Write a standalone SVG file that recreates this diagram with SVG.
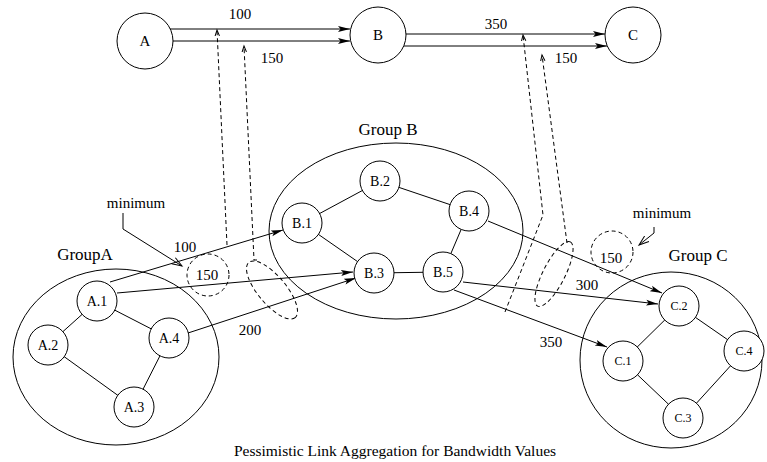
<svg xmlns="http://www.w3.org/2000/svg" width="767" height="462" viewBox="0 0 767 462">
<style>
text{font-family:"Liberation Serif","Times New Roman",serif;fill:#000;text-anchor:middle}
.n{fill:#fff;stroke:#000;stroke-width:1}
.g{fill:none;stroke:#000;stroke-width:1}
.e{stroke:#000;stroke-width:1;fill:none}
.d{stroke:#000;stroke-width:1;fill:none;stroke-dasharray:4,3}
.lbl{font-size:14px}
.clbl{font-size:12px}
.top{font-size:15px}
.num{font-size:15px}
.cap{font-size:15.5px}
.grp{font-size:17px}
</style>
<defs>
<marker id="fa" markerWidth="13" markerHeight="8" refX="12" refY="4" orient="auto" markerUnits="userSpaceOnUse">
<path d="M0,1 L12,4 L0,7 L2.5,4 z" fill="#000"/>
</marker>
<marker id="oa" markerWidth="8" markerHeight="8" refX="6" refY="4" orient="auto" markerUnits="userSpaceOnUse">
<path d="M0,1.8 L6,4 L0,6.2" fill="none" stroke="#000" stroke-width="1"/>
</marker>
<marker id="ma" markerWidth="12" markerHeight="10" refX="10" refY="5" orient="auto" markerUnits="userSpaceOnUse">
<path d="M0,1.5 L10,5 L0,8.5" fill="none" stroke="#000" stroke-width="1"/>
</marker>
</defs>

<!-- group outlines -->
<g id="groupA">
<ellipse class="g" cx="116" cy="357" rx="103" ry="88"/>
<text class="grp" x="85" y="260">GroupA</text>
</g>
<g id="groupB">
<ellipse class="g" cx="396" cy="231" rx="127" ry="88"/>
<text class="grp" x="388" y="135">Group B</text>
</g>
<g id="groupC">
<ellipse class="g" cx="671" cy="360" rx="91" ry="88"/>
<text class="grp" x="698" y="261">Group C</text>
</g>

<!-- connectors -->
<g id="connectors">
<!-- top level -->
<line class="e" x1="170" y1="29" x2="350" y2="29" marker-end="url(#fa)"/>
<line class="e" x1="173" y1="41" x2="350" y2="41" marker-end="url(#fa)"/>
<line class="e" x1="406" y1="34" x2="605" y2="34" marker-end="url(#fa)"/>
<line class="e" x1="404" y1="46" x2="607" y2="46" marker-end="url(#fa)"/>
<!-- intra group A -->
<line class="e" x1="97" y1="301" x2="48" y2="345"/>
<line class="e" x1="97" y1="301" x2="169" y2="338"/>
<line class="e" x1="48" y1="345" x2="134" y2="407"/>
<line class="e" x1="169" y1="338" x2="134" y2="407"/>
<!-- intra group B -->
<line class="e" x1="302" y1="223" x2="380" y2="181"/>
<line class="e" x1="380" y1="181" x2="469" y2="211"/>
<line class="e" x1="302" y1="223" x2="374" y2="273"/>
<line class="e" x1="374" y1="273" x2="443" y2="272"/>
<line class="e" x1="443" y1="272" x2="469" y2="211"/>
<!-- intra group C -->
<line class="e" x1="623" y1="361" x2="679" y2="306"/>
<line class="e" x1="679" y1="306" x2="744" y2="351"/>
<line class="e" x1="623" y1="361" x2="683" y2="418"/>
<line class="e" x1="683" y1="418" x2="744" y2="351"/>
<!-- inter group -->
<line class="e" x1="110" y1="282" x2="283" y2="230" marker-end="url(#fa)"/>
<line class="e" x1="117" y1="293" x2="353" y2="272" marker-end="url(#fa)"/>
<line class="e" x1="188" y1="333" x2="356" y2="278" marker-end="url(#fa)"/>
<line class="e" x1="488" y1="221" x2="662" y2="293" marker-end="url(#fa)"/>
<line class="e" x1="463" y1="282" x2="658" y2="304" marker-end="url(#fa)"/>
<line class="e" x1="454" y1="290" x2="607" y2="347" marker-end="url(#fa)"/>
<!-- dashed aggregation -->
<polyline class="d" points="227,245 217,30" marker-end="url(#oa)"/>
<polyline class="d" points="257,260 254,260 244,46" marker-end="url(#oa)"/>
<ellipse class="d" cx="272" cy="290" rx="36" ry="14" transform="rotate(50 272 290)"/>
<ellipse class="d" cx="208" cy="275" rx="21" ry="21"/>
<polyline class="d" points="505,312 543,215 523,35" marker-end="url(#oa)"/>
<polyline class="d" points="567,243 542,55" marker-end="url(#oa)"/>
<ellipse class="d" cx="554" cy="274" rx="36" ry="11" transform="rotate(-63 554 274)"/>
<ellipse class="d" cx="612" cy="252" rx="21" ry="21"/>
<!-- minimum pointers -->
<polyline class="e" points="123,213 123,229 182,266" marker-end="url(#ma)"/>
<polyline class="e" points="654,227 654,233 639,245" marker-end="url(#ma)"/>
</g>

<!-- labels -->
<g id="labels">
<text class="num" x="240" y="19">100</text>
<text class="num" x="272" y="63">150</text>
<text class="num" x="496" y="29">350</text>
<text class="num" x="566" y="63">150</text>
<text class="num" x="136" y="208">minimum</text>
<text class="num" x="662" y="218">minimum</text>
<text class="num" x="207" y="280">150</text>
<text class="num" x="611" y="263">150</text>
<text class="num" x="185" y="252">100</text>
<text class="num" x="250" y="335">200</text>
<text class="num" x="587" y="290">300</text>
<text class="num" x="551" y="347">350</text>
<text class="cap" x="395" y="456">Pessimistic Link Aggregation for Bandwidth Values</text>
</g>

<!-- top nodes -->
<g id="A"><circle class="n" cx="145" cy="41" r="28"/><text class="top" x="145" y="46">A</text></g>
<g id="B"><circle class="n" cx="378" cy="35" r="28"/><text class="top" x="378" y="40">B</text></g>
<g id="C"><circle class="n" cx="633" cy="35" r="28"/><text class="top" x="633" y="40">C</text></g>

<!-- group A nodes -->
<g id="A1"><circle class="n" cx="97" cy="301" r="20"/><text class="lbl" x="97" y="306">A.1</text></g>
<g id="A2"><circle class="n" cx="48" cy="345" r="20"/><text class="lbl" x="48" y="350">A.2</text></g>
<g id="A3"><circle class="n" cx="134" cy="407" r="20"/><text class="lbl" x="134" y="412">A.3</text></g>
<g id="A4"><circle class="n" cx="169" cy="338" r="20"/><text class="lbl" x="169" y="343">A.4</text></g>

<!-- group B nodes -->
<g id="B1"><circle class="n" cx="302" cy="223" r="20"/><text class="lbl" x="302" y="228">B.1</text></g>
<g id="B2"><circle class="n" cx="380" cy="181" r="20"/><text class="lbl" x="380" y="186">B.2</text></g>
<g id="B3"><circle class="n" cx="374" cy="273" r="20"/><text class="lbl" x="374" y="278">B.3</text></g>
<g id="B4"><circle class="n" cx="469" cy="211" r="20"/><text class="lbl" x="469" y="216">B.4</text></g>
<g id="B5"><circle class="n" cx="443" cy="272" r="20"/><text class="lbl" x="443" y="277">B.5</text></g>

<!-- group C nodes -->
<g id="C1"><circle class="n" cx="623" cy="361" r="20"/><text class="clbl" x="623" y="365">C.1</text></g>
<g id="C2"><circle class="n" cx="679" cy="306" r="20"/><text class="clbl" x="679" y="310">C.2</text></g>
<g id="C3"><circle class="n" cx="683" cy="418" r="20"/><text class="clbl" x="683" y="422">C.3</text></g>
<g id="C4"><circle class="n" cx="744" cy="351" r="20"/><text class="clbl" x="744" y="355">C.4</text></g>
</svg>
